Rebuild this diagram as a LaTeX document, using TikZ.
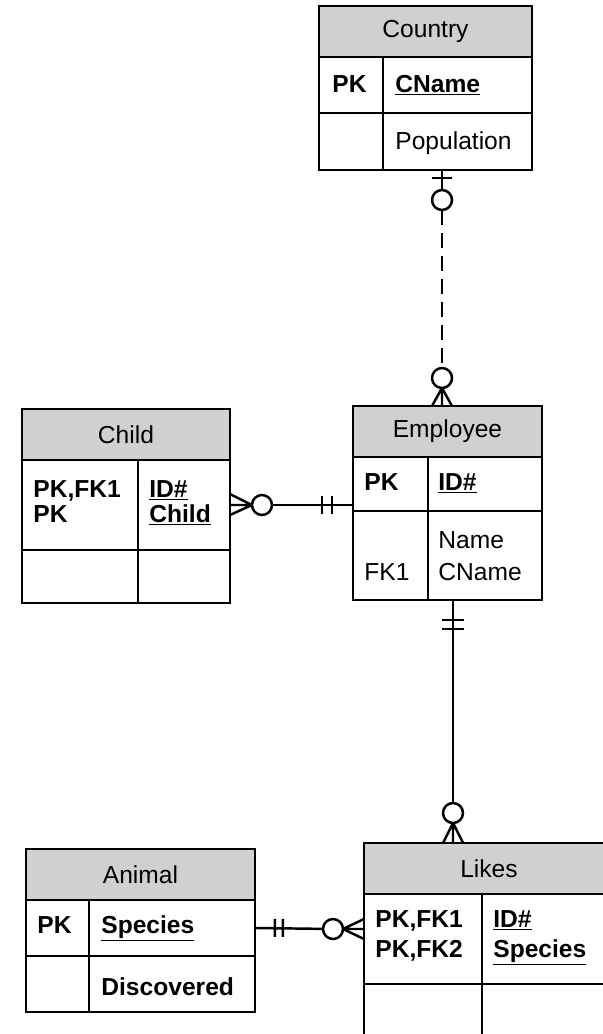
\documentclass[tikz,border=0pt]{standalone}
\usepackage{fontspec}
\setmainfont{Liberation Sans}
\usetikzlibrary{positioning}
\definecolor{hdrgray}{RGB}{208,208,208}
\tikzset{
	tbl/.style={draw, line width=1.3pt, inner sep=0pt, outer sep=0pt, anchor=north west},
	hdr/.style={tbl, fill=hdrgray, minimum height=1.02cm},
	txt/.style={anchor=base west, inner sep=0pt},
	rel/.style={line width=1.4pt},
	optline/.style={rel, dash pattern=on 0.3cm off 0.16cm},
	zero/.style={circle, draw, line width=1.4pt, fill=white, minimum size=0.4cm, inner sep=0pt, outer sep=0pt}
}
\begin{document}
\begin{tikzpicture}[x=0.02cm, y=-0.02cm, font=\fontsize{14pt}{17pt}\selectfont]
		\useasboundingbox (0,0) rectangle (602,1034);
		%Country
		\node[hdr, minimum width=4.26cm] (country) at (319,6) {Country};
		\node[tbl, minimum width=4.26cm, minimum height=1.12cm] (country1) at (country.south west) {};
		\node[tbl, minimum width=4.26cm, minimum height=1.14cm] (country2) at (country1.south west) {};
		\draw[rel] (383,57) -- (383,170);
		\node[txt] (countrypk) at (332,92) {\bfseries PK};
		\node[txt] (countrycname) at (395,92) {\bfseries\underline{CName}};
		\node[txt] (countrypop) at (395,150) {Population};
		%Employee
		\node[hdr, minimum width=3.78cm] (emp) at (353,406) {Employee};
		\node[tbl, minimum width=3.78cm, minimum height=1.08cm] (emp1) at (emp.south west) {};
		\node[tbl, minimum width=3.78cm, minimum height=1.78cm] (emp2) at (emp1.south west) {};
		\draw[rel] (428,457) -- (428,600);
		\node[txt] (emppk) at (364,490) {\bfseries PK};
		\node[txt] (empid) at (438,490) {\bfseries\underline{ID\#}};
		\node[txt] (empname) at (438,548) {Name};
		\node[txt] (empcname) at (438,580) {CName};
		\node[txt] (empfk) at (364,580) {FK1};
		%Child
		\node[hdr, minimum width=4.16cm] (child) at (22,409) {Child};
		\node[tbl, minimum width=4.16cm, minimum height=1.8cm] (child1) at (child.south west) {};
		\node[tbl, minimum width=4.16cm, minimum height=1.06cm] (child2) at (child1.south west) {};
		\draw[rel] (138,460) -- (138,603);
		\node[txt] (childk1) at (33,497) {\bfseries PK,FK1};
		\node[txt] (childk2) at (33,522) {\bfseries PK};
		\node[txt] (childid) at (149,497) {\bfseries\underline{ID\#}};
		\node[txt] (childchild) at (149,522) {\bfseries\underline{Child}};
		%Animal
		\node[hdr, minimum width=4.58cm] (animal) at (26,849) {Animal};
		\node[tbl, minimum width=4.58cm, minimum height=1.12cm] (animal1) at (animal.south west) {};
		\node[tbl, minimum width=4.58cm, minimum height=1.12cm] (animal2) at (animal1.south west) {};
		\draw[rel] (89,900) -- (89,1012);
		\node[txt] (animalpk) at (37,933) {\bfseries PK};
		\node[txt] (animalsp) at (101,933) {\bfseries\underline{Species}};
		\node[txt] (animaldisc) at (101,995) {\bfseries Discovered};
		%Likes
		\node[hdr, minimum width=5cm] (likes) at (364,843) {Likes};
		\node[tbl, minimum width=5cm, minimum height=1.8cm] (likes1) at (likes.south west) {};
		\node[tbl, minimum width=5cm, minimum height=1.2cm] (likes2) at (likes1.south west) {};
		\draw[rel] (482,894) -- (482,1050);
		\node[txt] (likesk1) at (375,927) {\bfseries PK,FK1};
		\node[txt] (likesk2) at (375,957) {\bfseries PK,FK2};
		\node[txt] (likesid) at (493,927) {\bfseries\underline{ID\#}};
		\node[txt] (likessp) at (493,957) {\bfseries\underline{Species}};
		%Beziehungen
		\node[zero] (o1) at (442,200) {};
		\node[zero] (o2) at (442,378) {};
		\draw[rel] (o1 |- country2.south) -- (o1) (o1 |- country2.south) ++(-10,8) -- ++(20,0);
		\draw[optline] (o1) -- (o2);
		\draw[rel] (o2) -- (o2 |- emp.north) (o2.south) -- ++(-10,18) (o2.south) -- ++(10,18);
		\node[zero] (o3) at (262,505) {};
		\draw[rel] (child1.east) -- (o3) (o3.west) -- ++(-22,-11) (o3.west) -- ++(-22,10);
		\draw[rel] (o3) -- (o3 -| emp1.west) (o3 -| emp1.west) ++(-31,-9) -- ++(0,18) ++(10,0) -- ++(0,-18);
		\node[zero] (o4) at (453,813) {};
		\draw[rel] (o4 |- emp2.south) -- (o4) (o4 |- emp2.south) ++(-11,20) -- ++(22,0) ++(0,9) -- ++(-22,0);
		\draw[rel] (o4) -- (o4 |- likes.north) (o4.south) -- ++(-10,20) (o4.south) -- ++(10,20);
		\node[zero] (o5) at (333,929) {};
		\draw[rel] (animal1.east) -- (o5) (animal1.east) ++(20,-9) -- ++(0,18) ++(8,0) -- ++(0,-18);
		\draw[rel] (o5) -- (o5 -| likes1.west) (o5.east) -- ++(21,-10) (o5.east) -- ++(21,10);
	\end{tikzpicture}
\end{document}
